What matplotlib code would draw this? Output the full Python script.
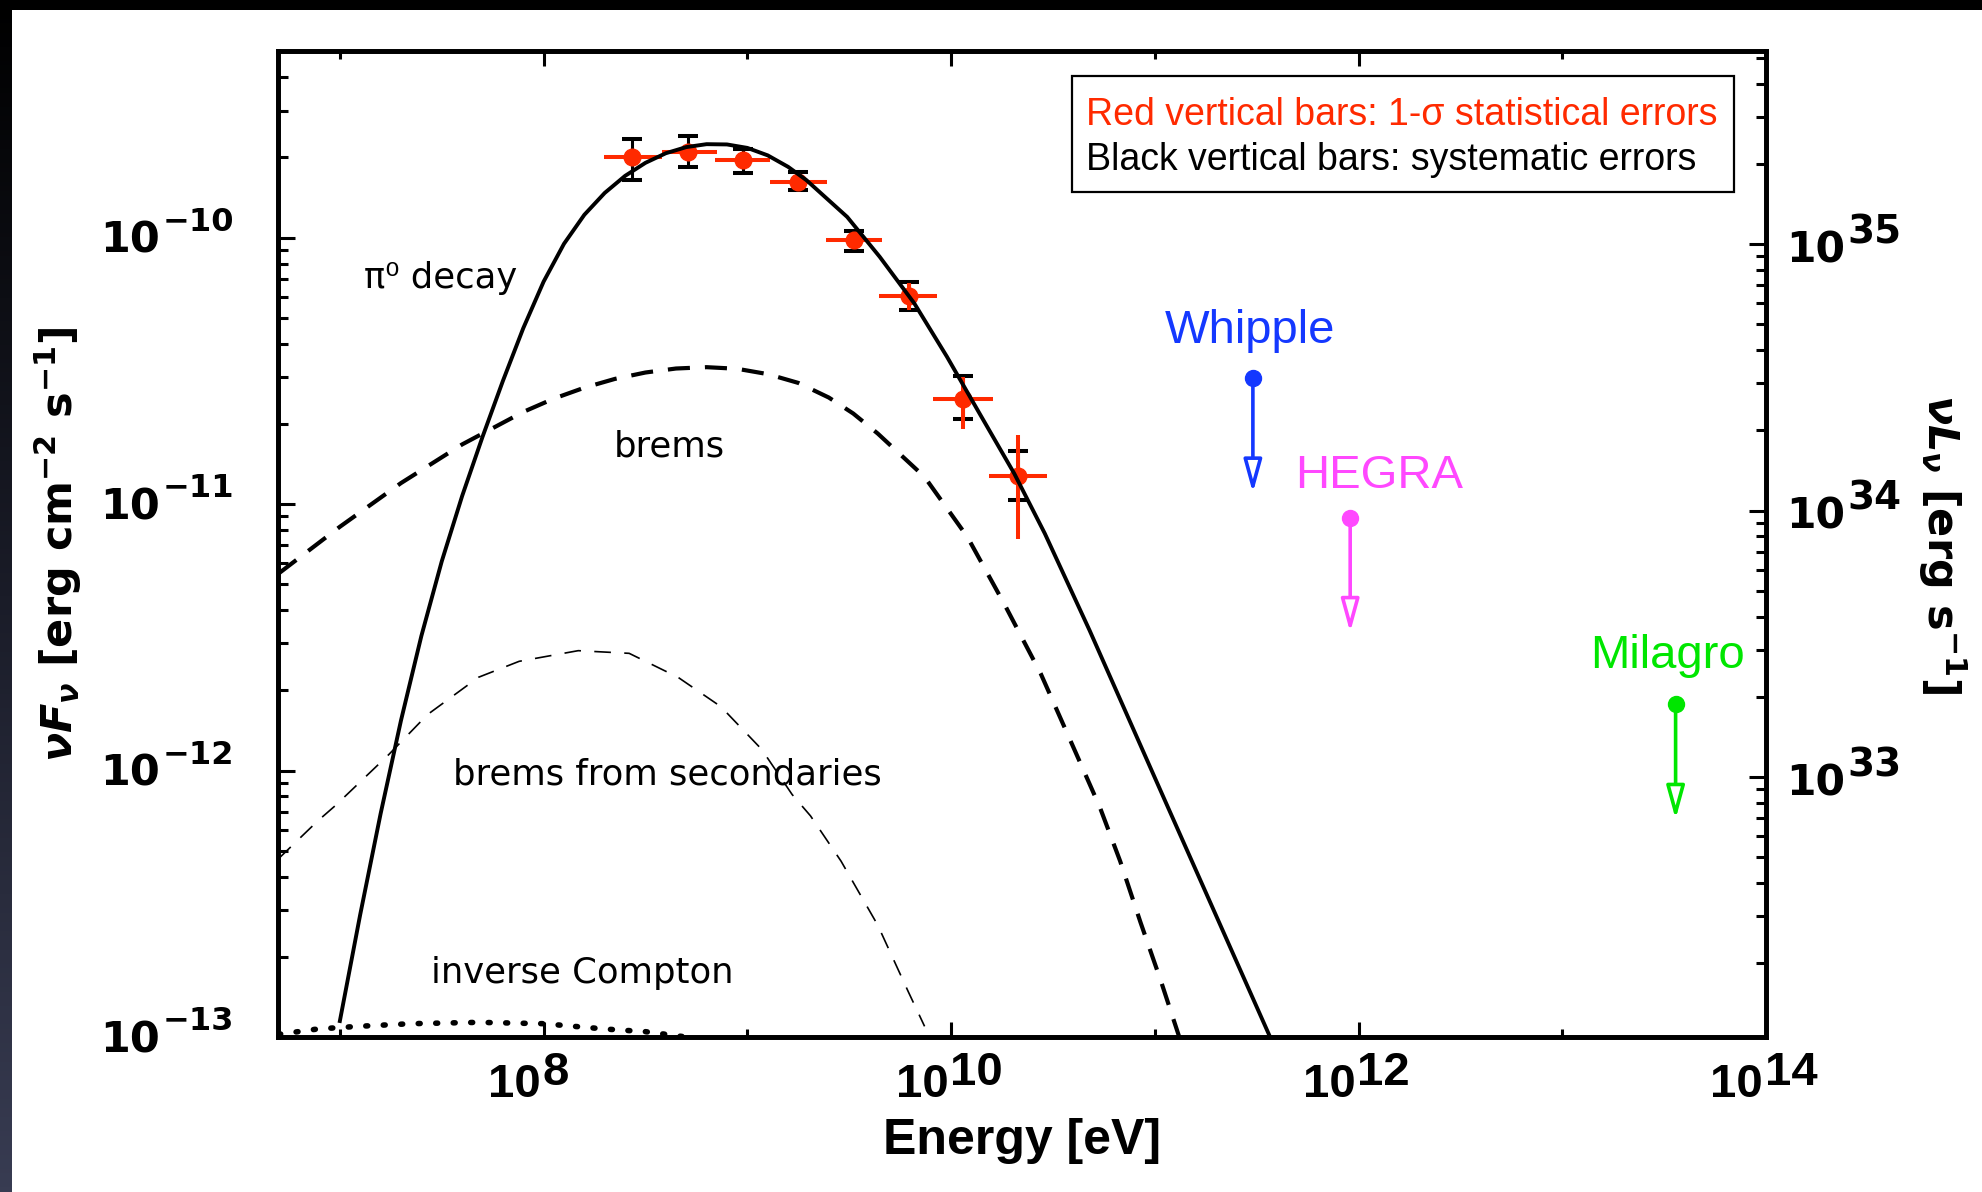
import numpy as np
import matplotlib
matplotlib.use('Agg')
import matplotlib.pyplot as plt
import matplotlib.ticker as ticker
from matplotlib.patches import Rectangle
from matplotlib.colors import LinearSegmentedColormap

plt.rcParams['mathtext.fontset'] = 'custom'
plt.rcParams['mathtext.rm'] = 'DejaVu Sans:bold'
plt.rcParams['mathtext.it'] = 'DejaVu Sans:italic:bold'
plt.rcParams['mathtext.bf'] = 'DejaVu Sans:bold'

# ____________________________________________________________________
# DATA

# EGRET points: energy [eV], bin edges, nuF_nu, stat (red) and sys (black) ranges
energy = [2.71e8, 5.14e8, 9.57e8, 1.78e9, 3.33e9, 6.19e9, 1.15e10, 2.13e10]
e_lo = [1.98e8, 3.81e8, 6.95e8, 1.29e9, 2.42e9, 4.45e9, 8.18e9, 1.54e10]
e_hi = [3.81e8, 7.10e8, 1.29e9, 2.46e9, 4.58e9, 8.53e9, 1.60e10, 2.96e10]
flux = [2.01e-10, 2.10e-10, 1.95e-10, 1.62e-10, 9.8e-11, 6.04e-11, 2.48e-11, 1.27e-11]
stat_lo = [1.92e-10, 2.01e-10, 1.86e-10, 1.54e-10, 9.2e-11, 5.34e-11, 1.92e-11, 7.43e-12]
stat_hi = [2.10e-10, 2.19e-10, 2.04e-10, 1.70e-10, 1.04e-10, 6.78e-11, 3.01e-11, 1.82e-11]
sys_lo = [1.64e-10, 1.85e-10, 1.75e-10, 1.51e-10, 8.93e-11, 5.35e-11, 2.09e-11, 1.04e-11]
sys_hi = [2.34e-10, 2.41e-10, 2.15e-10, 1.77e-10, 1.06e-10, 6.84e-11, 3.02e-11, 1.58e-11]

# model curves, log10(E/eV) and log10(nuF_nu)
pi0_logE = [7.00, 7.10, 7.20, 7.30, 7.40, 7.50, 7.60, 7.70, 7.80, 7.90, 8.00, 8.10, 8.20,
            8.30, 8.40, 8.50, 8.60, 8.70, 8.80, 8.90, 9.00, 9.10, 9.20, 9.29, 9.49, 9.65,
            9.82, 9.98, 10.14, 10.31, 10.46, 10.68, 11.06, 11.56]
pi0_logF = [-12.94, -12.54, -12.162, -11.812, -11.495, -11.215, -10.97, -10.748, -10.538,
            -10.34, -10.165, -10.023, -9.914, -9.832, -9.768, -9.719, -9.683, -9.66, -9.649,
            -9.65, -9.663, -9.691, -9.734, -9.784, -9.922, -10.072, -10.247, -10.447, -10.66,
            -10.885, -11.11, -11.474, -12.13, -12.99]

brems_logE = [6.70, 7.00, 7.30, 7.60, 7.90, 8.05, 8.20, 8.35, 8.50, 8.65, 8.80, 8.95, 9.10,
              9.25, 9.40, 9.52, 9.64, 9.87, 10.08, 10.26, 10.44, 10.60, 10.73, 10.83, 10.93,
              11.03, 11.12]
brems_logF = [-11.26, -11.085, -10.921, -10.776, -10.654, -10.604, -10.563, -10.53, -10.506,
              -10.491, -10.486, -10.492, -10.512, -10.545, -10.600, -10.66, -10.735, -10.898,
              -11.123, -11.373, -11.636, -11.912, -12.137, -12.34, -12.57, -12.79, -13.00]

sec_logE = [6.70, 6.89, 6.98, 7.24, 7.43, 7.68, 7.88, 8.17, 8.42, 8.66, 8.87, 9.07, 9.22,
            9.31, 9.46, 9.64, 9.79, 9.87]
sec_logF = [-12.33, -12.19, -12.13, -11.94, -11.79, -11.65, -11.59, -11.55, -11.56, -11.65,
            -11.76, -11.92, -12.09, -12.17, -12.34, -12.58, -12.83, -12.96]

ic_logE = [6.70, 6.89, 7.09, 7.35, 7.68, 8.00, 8.30, 8.50, 8.70]
ic_logF = [-12.99, -12.97, -12.96, -12.95, -12.945, -12.95, -12.97, -12.98, -13.00]

# TeV upper limits
ul_names = ['Whipple', 'HEGRA', 'Milagro']
ul_energy = [3.03e11, 9.1e11, 3.6e13]
ul_flux = [2.97e-11, 8.9e-12, 1.77e-12]
ul_colors = ['#1438FF', '#FF48FF', '#00E600']
UL_DROP = 0.43  # arrow length in decades

DIST_FACTOR = 1.057e45  # nuL_nu / nuF_nu
XLIM = (4.97e6, 1e14)
YLIM = (1e-13, 5.02e-10)

RED = '#FF2A00'
NARROW = ['Liberation Sans Narrow', 'Liberation Sans']

# ____________________________________________________________________
# FIGURE

fig = plt.figure(figsize=(19.82, 11.92), dpi=100, facecolor='white')
ax = fig.add_axes([278/1982, 1-1037/1192, 1488/1982, 986/1192])

# dark frame bits round the slide
strip_cmap = LinearSegmentedColormap.from_list('strip', ['#000000', '#1a1c28', '#383c52'])
sax = fig.add_axes([0, 0, 12/1982, 1])
sax.imshow(np.linspace(0, 1, 256)[:, None], aspect='auto', cmap=strip_cmap)
sax.axis('off')
fig.patches.append(Rectangle((0, 1-10/1192), 1, 10/1192, transform=fig.transFigure,
                             facecolor='black', edgecolor='none', zorder=10))

ax.set_xscale('log')
ax.set_yscale('log')
ax.set_xlim(*XLIM)
ax.set_ylim(*YLIM)

# curves
ax.plot(10**np.array(pi0_logE), 10**np.array(pi0_logF), color='black', lw=2.8, zorder=4)
ax.plot(10**np.array(brems_logE), 10**np.array(brems_logF), color='black', lw=3.0,
        linestyle=(0, (5.3, 3.6)), zorder=4)
ax.plot(10**np.array(sec_logE), 10**np.array(sec_logF), color='black', lw=1.2,
        linestyle=(0, (10.0, 8.0)), zorder=4)
ax.plot(10**np.array(ic_logE), 10**np.array(ic_logF), color='black', lw=4.0,
        linestyle=(0, (0.35, 2.8)), dash_capstyle='round', zorder=4)

# data points
energy = np.array(energy)
flux = np.array(flux)
sys_err = [flux - np.array(sys_lo), np.array(sys_hi) - flux]
stat_err = [flux - np.array(stat_lo), np.array(stat_hi) - flux]
x_err = [energy - np.array(e_lo), np.array(e_hi) - energy]
ax.errorbar(energy, flux, yerr=sys_err, fmt='none', ecolor='black', elinewidth=2.2,
            capsize=7, capthick=2.9, zorder=2)
ax.errorbar(energy, flux, xerr=x_err, yerr=stat_err, fmt='o', color=RED, ms=12,
            ecolor=RED, elinewidth=2.9, capsize=0, zorder=3)

# upper limits
for name, e, f, c in zip(ul_names, ul_energy, ul_flux, ul_colors):
    ax.plot([e], [f], 'o', color=c, ms=11.5, zorder=5)
    ax.annotate('', xy=(e, f*10**-UL_DROP), xytext=(e, f),
                arrowprops=dict(arrowstyle='-|>,head_length=2.0,head_width=0.55',
                                ec=c, fc='white', lw=2.6, shrinkA=0, shrinkB=0), zorder=5)

ax.text(1.117e11, 4.02e-11, 'Whipple', color=ul_colors[0], fontsize=34,
        family='Liberation Sans', va='baseline')
ax.text(4.91e11, 1.148e-11, 'HEGRA', color=ul_colors[1], fontsize=34,
        family='Liberation Sans', va='baseline')
ax.text(1.365e13, 2.43e-12, 'Milagro', color=ul_colors[2], fontsize=34,
        family='Liberation Sans', va='baseline')

# curve labels
lab_kw = dict(fontsize=25.5, family='DejaVu Sans', va='baseline', ha='left')
ax.text(1.31e7, 6.45e-11, '\u03c0\u2070 decay', **lab_kw)
ax.text(2.22e8, 1.51e-11, 'brems', **lab_kw)
ax.text(3.6e7, 8.87e-13, 'brems from secondaries', **lab_kw)
ax.text(2.8e7, 1.59e-13, 'inverse Compton', **lab_kw)

# error legend box
ax.add_patch(Rectangle((0.5336, 0.857), 0.4449, 0.1176, transform=ax.transAxes,
                       fill=False, lw=1.6, ec='black', zorder=6))
ax.text(0.543, 0.925, 'Red vertical bars: 1-\u03c3 statistical errors', color=RED,
        fontsize=27, family='Liberation Sans', va='baseline', transform=ax.transAxes)
ax.text(0.543, 0.879, 'Black vertical bars: systematic errors', color='black',
        fontsize=27, family='Liberation Sans', va='baseline', transform=ax.transAxes)

# ____________________________________________________________________
# AXES AND TICKS

for s in ax.spines.values():
    s.set_linewidth(3.4)

ax.xaxis.set_major_locator(ticker.LogLocator(base=100.0))
ax.xaxis.set_minor_locator(ticker.LogLocator(base=10.0, subs=(1.0,)))
ax.yaxis.set_major_locator(ticker.LogLocator(base=10.0))
ax.yaxis.set_minor_locator(ticker.LogLocator(base=10.0, subs=np.arange(2, 10)))
ax.tick_params(which='both', direction='in', top=True, right=False, width=2.2,
               labelbottom=False, labelleft=False)
ax.tick_params(axis='x', which='major', length=11)
ax.tick_params(axis='x', which='minor', length=6)
ax.tick_params(axis='y', which='major', length=12)
ax.tick_params(axis='y', which='minor', length=7)

ax2 = ax.twinx()
ax2.set_yscale('log')
ax2.set_ylim(YLIM[0]*DIST_FACTOR, YLIM[1]*DIST_FACTOR)
ax2.yaxis.set_major_locator(ticker.LogLocator(base=10.0))
ax2.yaxis.set_minor_locator(ticker.LogLocator(base=10.0, subs=np.arange(2, 10)))
ax2.tick_params(which='both', direction='in', width=2.2, labelright=False)
ax2.tick_params(which='major', length=12)
ax2.tick_params(which='minor', length=7)
for s in ax2.spines.values():
    s.set_linewidth(3.4)

# tick labels built from the axis locators
ann_kw = dict(textcoords='offset points', va='baseline', fontweight='bold',
              annotation_clip=False)
xt = ax.get_xaxis_transform()
for v in ax.xaxis.get_majorticklocs():
    if not (XLIM[0] <= v <= XLIM[1] * 1.0001):
        continue
    p = int(round(np.log10(v)))
    ax.annotate('10', xy=(v, 0), xycoords=xt, xytext=(-2, -43), ha='right',
                fontsize=34, family=NARROW, **ann_kw)
    ax.annotate(str(p), xy=(v, 0), xycoords=xt, xytext=(-1, -34.5), ha='left',
                fontsize=34, family=NARROW, **ann_kw)

yt = ax.get_yaxis_transform()
for v in ax.yaxis.get_majorticklocs():
    if not (YLIM[0] * 0.9999 <= v <= YLIM[1]):
        continue
    p = int(round(np.log10(v)))
    e = ax.annotate('\u2212%d' % -p, xy=(0, v), xycoords=yt, xytext=(-31.7, 4.8),
                    ha='right', fontsize=23, family='DejaVu Sans', **ann_kw)
    ax.annotate('10', xy=(0, v), xycoords=(e, yt), xytext=(-2, -11), ha='right',
                fontsize=31, family='DejaVu Sans', **ann_kw)

yt2 = ax2.get_yaxis_transform()
for v in ax2.yaxis.get_majorticklocs():
    lo, hi = ax2.get_ylim()
    if not (lo <= v <= hi):
        continue
    p = int(round(np.log10(v)))
    t = ax2.annotate('10', xy=(1, v), xycoords=yt2, xytext=(14.4, -13), ha='left',
                     fontsize=30.5, family='DejaVu Sans', **ann_kw)
    ax2.annotate(str(p), xy=(1, v), xycoords=(t, yt2), xytext=(1.5, 0.7), ha='left',
                 fontsize=28, family='DejaVu Sans', **ann_kw)

ax.set_xlabel('Energy [eV]', fontsize=36, fontweight='bold', family='Liberation Sans')
ax.xaxis.set_label_coords(0.5, -0.1187)
ax.xaxis.label.set_va('baseline')

ax.set_ylabel(r'$\nu F_{\nu}$ [erg cm$^{-2}$ s$^{-1}$]', fontsize=31, fontweight='bold',
              family='DejaVu Sans')
ax.yaxis.set_label_coords(-0.1478, 0.5)
ax.yaxis.label.set_va('center')

ax2.set_ylabel(r'$\nu L_{\nu}$ [erg s$^{-1}$]', fontsize=31, fontweight='bold',
               family='DejaVu Sans', rotation=270)
ax2.yaxis.set_label_coords(1.1183, 0.5)
ax2.yaxis.label.set_va('center')
ax2.yaxis.label.set_ha('center')

fig.savefig('out.png', dpi=100, facecolor='white')
